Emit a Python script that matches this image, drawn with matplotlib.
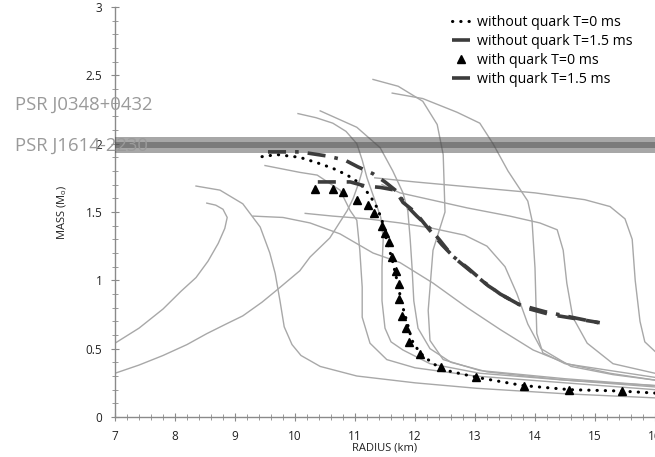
import matplotlib
matplotlib.use("Agg")
import matplotlib.pyplot as plt
from matplotlib.ticker import MultipleLocator

plt.rcParams['font.family'] = ['Open Sans', 'DejaVu Sans']

# ---- background equation-of-state curves (radius km, mass Msun) ----
eos_curves = [
    # self-bound branch (loop)
    ([7.0, 7.4, 7.8, 8.1, 8.35, 8.55, 8.72, 8.83, 8.87, 8.80, 8.68, 8.53],
     [0.54, 0.65, 0.79, 0.92, 1.02, 1.14, 1.27, 1.38, 1.46, 1.52, 1.55, 1.565]),
    # self-bound branch (long)
    ([7.0, 7.4, 7.8, 8.2, 8.53, 8.85, 9.13, 9.45, 9.7, 10.08, 10.25, 10.58, 10.87, 10.97, 11.06, 11.12],
     [0.32, 0.38, 0.45, 0.53, 0.61, 0.68, 0.74, 0.84, 0.93, 1.07, 1.17, 1.31, 1.51, 1.60, 1.71, 1.80]),
    ([8.35, 8.75, 9.13, 9.42, 9.58, 9.67, 9.75, 9.82, 9.95, 10.1, 10.42, 11.03, 12.0, 13.03, 14.5, 16.0],
     [1.69, 1.66, 1.56, 1.39, 1.20, 1.05, 0.85, 0.66, 0.53, 0.45, 0.37, 0.30, 0.25, 0.21, 0.17, 0.14]),
    ([9.30, 9.80, 10.25, 10.75, 11.30, 11.75, 12.30, 12.87, 13.42, 13.97, 14.53, 15.25, 16.0],
     [1.47, 1.46, 1.42, 1.34, 1.20, 1.13, 0.98, 0.80, 0.64, 0.49, 0.39, 0.32, 0.27]),
    ([9.50, 10.08, 10.37, 10.75, 10.92, 11.03, 11.08, 11.12, 11.12, 11.25, 11.53, 12.0, 13.0, 14.5, 16.0],
     [1.84, 1.79, 1.77, 1.66, 1.51, 1.44, 1.22, 0.95, 0.73, 0.54, 0.42, 0.36, 0.30, 0.25, 0.20]),
    ([10.05, 10.35, 10.63, 10.85, 11.03, 11.12, 11.20, 11.32, 11.43, 11.47, 11.45, 11.45, 11.50,
      11.60, 11.80, 12.25, 13.08, 14.5, 16.0],
     [2.22, 2.19, 2.15, 2.09, 2.00, 1.88, 1.75, 1.60, 1.46, 1.30, 1.10, 0.85, 0.65,
      0.55, 0.49, 0.39, 0.32, 0.27, 0.23]),
    ([10.42, 11.03, 11.42, 11.63, 11.80, 11.88, 11.92, 11.95, 11.98, 12.05, 12.25, 12.60, 13.20, 14.5, 16.0],
     [2.24, 2.12, 1.97, 1.80, 1.64, 1.51, 1.30, 1.10, 0.85, 0.65, 0.50, 0.40, 0.33, 0.27, 0.22]),
    ([11.30, 11.72, 12.13, 12.37, 12.47, 12.50, 12.30, 12.22, 12.25, 12.47, 13.08, 14.5, 16.0],
     [2.47, 2.42, 2.31, 2.14, 1.92, 1.50, 1.22, 0.78, 0.56, 0.42, 0.34, 0.28, 0.23]),
    ([11.62, 12.13, 12.70, 13.08, 13.30, 13.55, 13.88, 13.95, 14.00, 14.03, 14.13, 14.50, 16.0],
     [2.37, 2.33, 2.23, 2.15, 2.00, 1.80, 1.58, 1.44, 1.09, 0.61, 0.47, 0.39, 0.29]),
    ([11.33, 12.0, 13.0, 14.0, 14.83, 15.25, 15.50, 15.62, 15.67, 15.75, 15.83, 16.0],
     [1.75, 1.72, 1.68, 1.64, 1.59, 1.54, 1.45, 1.30, 1.00, 0.70, 0.55, 0.48]),
    ([11.45, 11.75, 12.87, 13.58, 14.08, 14.37, 14.47, 14.53, 14.63, 14.87, 15.3, 16.0],
     [1.70, 1.64, 1.53, 1.47, 1.42, 1.37, 1.22, 0.98, 0.73, 0.54, 0.39, 0.32]),
    ([10.17, 10.63, 11.20, 11.75, 12.30, 12.83, 13.20, 13.50, 13.70, 13.88, 14.10, 14.60, 15.30, 16.0],
     [1.49, 1.47, 1.45, 1.42, 1.38, 1.33, 1.25, 1.10, 0.90, 0.68, 0.50, 0.37, 0.31, 0.27]),
]

# ---- model sequences ----
r_nq_t0 = [9.45, 9.70, 10.08, 10.37, 10.63, 10.87, 11.08, 11.25, 11.37, 11.45, 11.53, 11.62,
           11.70, 11.78, 11.87, 11.95, 12.08, 12.30, 12.53, 13.03, 13.80, 14.58, 15.42, 16.0]
m_nq_t0 = [1.905, 1.92, 1.90, 1.86, 1.82, 1.77, 1.71, 1.62, 1.53, 1.44, 1.29, 1.15,
           1.00, 0.83, 0.69, 0.56, 0.47, 0.39, 0.34, 0.29, 0.23, 0.20, 0.19, 0.175]

r_nq_t15 = [9.55, 10.08, 10.53, 10.83, 11.05, 11.30, 11.50, 11.70, 11.83, 12.03, 12.25, 12.42,
            12.62, 12.88, 13.17, 13.42, 13.75, 14.17, 14.50, 14.83, 15.17]
m_nq_t15 = [1.94, 1.94, 1.91, 1.88, 1.83, 1.78, 1.72, 1.65, 1.56, 1.47, 1.38, 1.29,
            1.18, 1.09, 0.98, 0.90, 0.82, 0.77, 0.74, 0.71, 0.68]

r_q_t0 = [10.33, 10.63, 10.80, 11.03, 11.22, 11.32, 11.45, 11.50, 11.57, 11.62, 11.68, 11.73,
          11.73, 11.78, 11.85, 11.90, 12.08, 12.43, 13.02, 13.82, 14.57, 15.45]
m_q_t0 = [1.67, 1.67, 1.65, 1.59, 1.55, 1.49, 1.40, 1.35, 1.28, 1.17, 1.07, 0.97,
          0.86, 0.74, 0.65, 0.55, 0.46, 0.365, 0.29, 0.23, 0.20, 0.19]

r_q_t15 = [10.38, 10.67, 10.92, 11.17, 11.42, 11.67, 11.80, 12.00, 12.22, 12.45, 12.67, 12.92,
           13.22, 13.50, 13.83, 14.25, 14.67, 15.08]
m_q_t15 = [1.72, 1.72, 1.72, 1.69, 1.68, 1.66, 1.57, 1.50, 1.38, 1.26, 1.16, 1.07,
           0.96, 0.88, 0.80, 0.75, 0.72, 0.69]

# pulsar mass constraints: (label, mass, uncertainty)
pulsars = [("PSR J0348+0432", 2.01, 0.04), ("PSR J1614-2230", 1.97, 0.04)]

fig = plt.figure(figsize=(6.55, 4.57), dpi=100)
ax = fig.add_axes([115 / 655, 40 / 457, 540 / 655, 410 / 457])

for r, m in eos_curves:
    ax.plot(r, m, color='#a8a8a8', lw=1.0, zorder=2)

for name, mass, err in pulsars:
    ax.axhspan(mass - err, mass + err, color='#505050', alpha=0.5, lw=0, zorder=3)

ax.plot(r_nq_t0, m_nq_t0, color='black', lw=2.2, ls=(0, (0.1, 2.6)),
        dash_capstyle='round', zorder=4, label='without quark T=0 ms')
ax.plot(r_nq_t15, m_nq_t15, color='#3c3c3c', lw=2.6, ls=(0, (5, 2.5, 1, 2.5)),
        zorder=4, label='without quark T=1.5 ms')
ax.plot(r_q_t0, m_q_t0, ls='none', marker='^', color='black', ms=5.5,
        zorder=5, label='with quark T=0 ms')
ax.plot(r_q_t15, m_q_t15, color='#3c3c3c', lw=2.6, ls=(0, (5, 3)),
        zorder=4, label='with quark T=1.5 ms')

ax.set_xlim(7, 16)
ax.set_ylim(0, 3)
ax.xaxis.set_major_locator(MultipleLocator(1))
ax.xaxis.set_minor_locator(MultipleLocator(0.2))
ax.yaxis.set_major_locator(MultipleLocator(0.5))
ax.yaxis.set_minor_locator(MultipleLocator(0.1))
ax.set_yticks([0, 0.5, 1, 1.5, 2, 2.5, 3], ['0', '0.5', '1', '1.5', '2', '2.5', '3'])
for side in ('top', 'right'):
    ax.spines[side].set_visible(False)
for side in ('left', 'bottom'):
    ax.spines[side].set_color('#8a8a8a')
    ax.spines[side].set_linewidth(1.0)
ax.tick_params(which='both', direction='inout', color='#8a8a8a', labelsize=8.5,
               labelcolor='#222222')
ax.tick_params(which='major', length=6)
ax.tick_params(which='minor', length=4)
ax.tick_params(axis='x', pad=6)
ax.tick_params(axis='y', pad=6)

ax.set_xlabel('RADIUS (km)', fontsize=8, labelpad=0, color='#222222')
ax.set_ylabel(r'MASS (M$_\mathregular{o}$)', fontsize=8, labelpad=12, color='#222222')

for (name, mass, err), ypix in zip(pulsars, [105, 146]):
    fig.text(15 / 655, 1 - ypix / 457, name, fontsize=13.3, color='#9a9a9a',
             va='center', ha='left', zorder=10)

leg = ax.legend(loc='upper left', bbox_to_anchor=(452 / 655, 1 - 15 / 457),
                bbox_transform=fig.transFigure, frameon=False,
                fontsize=10.2, handlelength=1.3, handletextpad=0.45, labelspacing=0.28,
                borderaxespad=0, borderpad=0)

fig.savefig('out.png', dpi=100)
